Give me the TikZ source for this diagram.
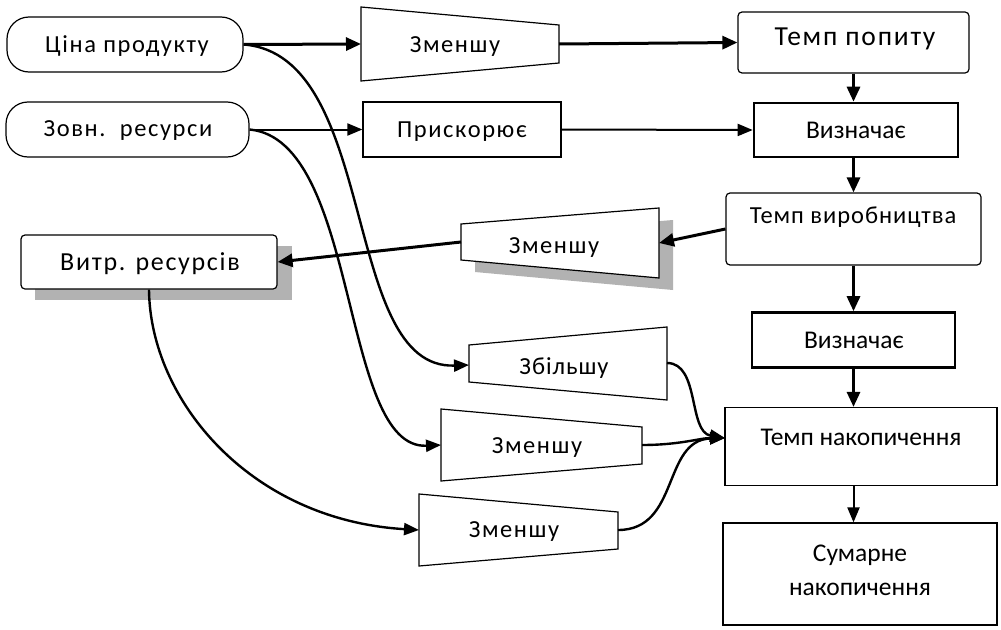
\documentclass[tikz,border=0pt]{standalone}
\usepackage{fontspec}
\setmainfont{Carlito}
\usetikzlibrary{arrows.meta}
% letter-spaced variants of the same face
\newfontfamily\lsA[LetterSpace=6.5]{Carlito}
\newfontfamily\lsB[LetterSpace=4]{Carlito}
\begin{document}
\begin{tikzpicture}[x=1pt,y=-1pt,
  box/.style={draw,line width=1.2pt,minimum width=#1,inner sep=0pt},
  rbox/.style={box=#1,rounded corners=4pt},
  pill/.style={box=#1,rounded corners=22pt},
  boldbox/.style={box=#1,line width=2.6pt},
  trap/.style={draw,line width=1.2pt,fill=white},
  shade/.style={fill=black!30},
  lbl/.style={inner sep=0pt,font=\fontsize{24.5}{28}\lsA},
  plain/.style={inner sep=0pt,font=\fontsize{25.5}{34}\selectfont},
  link/.style={line width=3pt,-{Triangle[length=15pt,width=13pt]}},
  thin link/.style={line width=2pt,-{Triangle[length=15pt,width=12pt]}},
  curve/.style={line width=2.4pt,-{Triangle[length=15pt,width=12pt]}}
]
\useasboundingbox (0,0) rectangle (1001,629);

% ---- shadows ----
\fill[shade] (35,246) rectangle (292,300);
\fill[shade] (475,236) -- (673,220) -- (673,290) -- (475,272) -- cycle;

% ---- inputs ----
\node[pill=236pt,minimum height=55pt] (ci) at (125,44.5) {};
\node[lbl] (citxt) at (127,46) {Ціна продукту};
\node[pill=243pt,minimum height=55pt] (zr) at (127.5,129.5) {};
\node[lbl] (zrtxt) at (128,131) {Зовн.\ \ ресурси};

% ---- top trapezoid ----
\coordinate (t1a) at (361,7);  \coordinate (t1b) at (559,25);
\coordinate (t1c) at (559,63); \coordinate (t1d) at (361,81);
\draw[trap] (t1a) -- (t1b) -- (t1c) -- (t1d) -- cycle;
\coordinate (t1w) at (361,44); \coordinate (t1e) at (559,44);
\node[lbl] (t1txt) at (455,47) {Зменшу};

\node[box=198pt,minimum height=55pt] (pr) at (462,129.5) {};
\node[lbl] (prtxt) at (462,132) {Прискорює};

% ---- right column ----
\node[rbox=231pt,minimum height=61pt] (tp) at (853.5,42.5) {};
\node[inner sep=0pt,font=\fontsize{27.5}{30}\lsA] (tptxt) at (855,39) {Темп попиту};
\node[boldbox=204pt,minimum height=54pt] (v1) at (856,130) {};
\node[plain] (v1txt) at (856,130) {Визначає};
\node[rbox=255pt,minimum height=72pt] (pv) at (853.5,229) {};
\node[lbl,font=\fontsize{24.5}{28}\lsB] (pvtxt) at (853,217) {Темп виробництва};
\node[boldbox=203pt,minimum height=55pt] (v2) at (853.5,340) {};
\node[plain] (v2txt) at (854,340) {Визначає};
\node[box=272pt,minimum height=78pt] (tn) at (861,446.5) {};
\node[plain] (tntxt) at (861,437) {Темп накопичення};
\node[box=274pt,minimum height=102pt] (sn) at (860,574) {};
\node[plain,align=center] (sntxt) at (860,570) {Сумарне\\накопичення};

% ---- resource use ----
\node[rbox=256pt,minimum height=54pt,fill=white] (vr) at (149,262) {};
\node[lbl,font=\fontsize{26}{30}\lsA] (vrtxt) at (150,264) {Витр. ресурсів};

% ---- middle trapezoid (reversed) ----
\coordinate (t2a) at (461,224); \coordinate (t2b) at (659,208);
\coordinate (t2c) at (659,278); \coordinate (t2d) at (461,260);
\draw[trap] (t2a) -- (t2b) -- (t2c) -- (t2d) -- cycle;
\coordinate (t2w) at (461,242); \coordinate (t2e) at (659,243);
\node[lbl] (t2txt) at (554,248) {Зменшу};

% ---- lower trapezoids ----
\coordinate (t3a) at (469,345); \coordinate (t3b) at (667,327);
\coordinate (t3c) at (667,400); \coordinate (t3d) at (469,382);
\draw[trap] (t3a) -- (t3b) -- (t3c) -- (t3d) -- cycle;
\coordinate (t3w) at (469,365); \coordinate (t3e) at (667,363);
\node[lbl,font=\fontsize{24.5}{28}\lsB] (t3txt) at (564,368) {Збільшу};

\coordinate (t4a) at (441,409); \coordinate (t4b) at (642,427);
\coordinate (t4c) at (642,464); \coordinate (t4d) at (441,481);
\draw[trap] (t4a) -- (t4b) -- (t4c) -- (t4d) -- cycle;
\coordinate (t4w) at (441,445); \coordinate (t4e) at (642,445);
\node[lbl] (t4txt) at (537,448) {Зменшу};

\coordinate (t5a) at (419,494); \coordinate (t5b) at (618,512);
\coordinate (t5c) at (618,549); \coordinate (t5d) at (419,566);
\draw[trap] (t5a) -- (t5b) -- (t5c) -- (t5d) -- cycle;
\coordinate (t5w) at (419,530); \coordinate (t5e) at (618,530);
\node[lbl] (t5txt) at (514,532) {Зменшу};

\coordinate (tnin) at (725,438);

% ---- straight connectors ----
\draw[link] (ci.east) -- (t1w);
\draw[link] (t1e) -- (tp.west);
\draw[thin link] (zr.east) -- (pr.west);
\draw[thin link] (pr.east) -- (v1.west);
\draw[link] (tp.south) -- (tp.south |- v1.north);
\draw[link] (tp.south |- v1.south) -- (tp.south |- pv.north);
\draw[link] (pv.south) -- (v2.north);
\draw[link] (v2.south) -- (v2.south |- tn.north);
\draw[thin link] (v2.south |- tn.south) -- (v2.south |- sn.north);
\draw[link] (pv.west) -- (t2e);
\draw[link] (t2w) -- (vr.east);

% ---- curved connectors ----
\draw[curve] (ci.east) .. controls (380,55) and (340,370) .. (t3w);
\draw[curve] (zr.east) .. controls (360,140) and (340,450) .. (t4w);
\draw[curve] (vr.south) .. controls (150,400) and (250,520) .. (t5w);
\draw[curve] (t3e) .. controls (700,363) and (688,432) .. (tnin);
\draw[curve] (t4e) .. controls (680,445) and (700,438) .. (tnin);
\draw[curve] (t5e) .. controls (680,530) and (662,440) .. (tnin);
\end{tikzpicture}
\end{document}
